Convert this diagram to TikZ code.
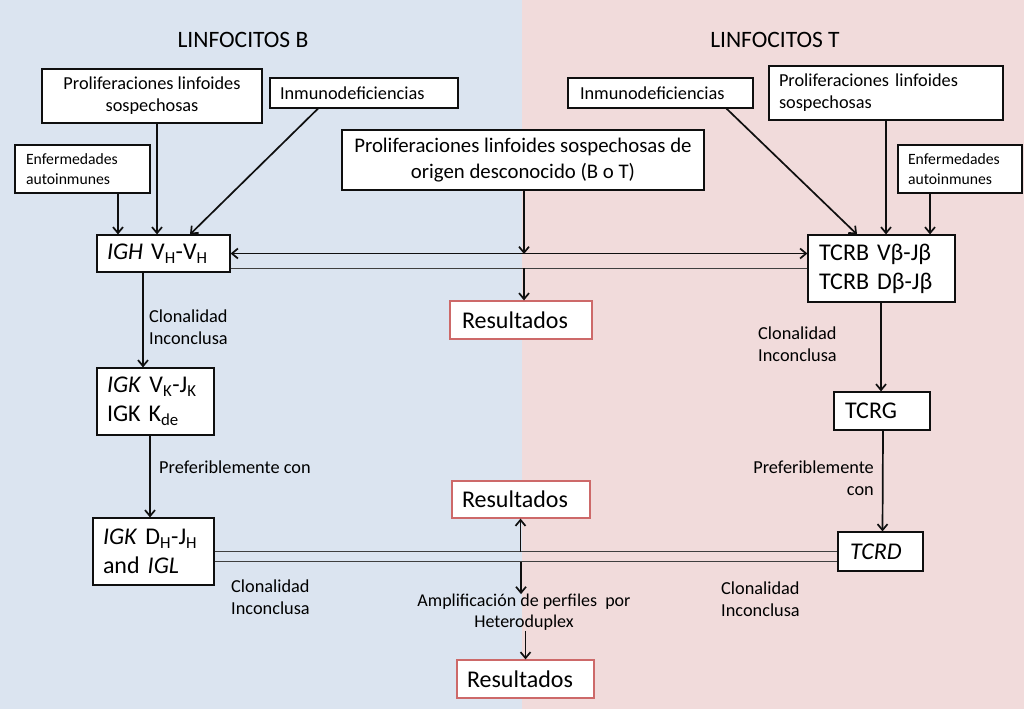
\documentclass[tikz,border=0pt]{standalone}
\usepackage{fontspec}
\setmainfont{Carlito}
\usetikzlibrary{arrows.meta}
\definecolor{bgB}{RGB}{219,228,240}
\definecolor{bgT}{RGB}{241,219,219}
\definecolor{resC}{RGB}{205,105,105}
\definecolor{lineC}{RGB}{15,15,15}
\tikzset{
  box/.style={draw=lineC, fill=white, line width=1.2pt, inner sep=0pt, font=\fontsize{18.3}{22}\selectfont},
  smallbox/.style={box, font=\fontsize{15.7}{20}\selectfont},
  bigbox/.style={box, font=\fontsize{24}{29}\selectfont},
  resbox/.style={box, draw=resC, font=\fontsize{24}{29}\selectfont},
  lbl/.style={inner sep=0pt, font=\fontsize{18.3}{22.5}\selectfont},
  arr/.style={draw=lineC, line width=1.7pt, -{Straight Barb[length=6pt,width=10pt]}},
  arrboth/.style={draw=lineC, line width=1.7pt, {Straight Barb[length=6pt,width=10pt]}-{Straight Barb[length=6pt,width=10pt]}},
  ln/.style={draw=lineC!80, line width=1.7pt},
}
\begin{document}
\begin{tikzpicture}[x=1pt,y=-1pt]
\useasboundingbox (0,0) rectangle (1024,709);
\fill[bgB] (0,0) rectangle (522,709);
\fill[bgT] (522,0) rectangle (1024,709);

\node[lbl, font=\fontsize{23.5}{26}\selectfont] (tB) at (243,40) {LINFOCITOS B};
\node[lbl, font=\fontsize{23.5}{26}\selectfont] (tT) at (775,40) {LINFOCITOS T};

% B side
\node[box, minimum width=220, minimum height=54, align=center] (pB) at (152,96) {Proliferaciones linfoides\\sospechosas};
\node[box, minimum width=188, minimum height=30, text width=168, align=left] (iB) at (364,93) {Inmunodeficiencias};
\node[smallbox, minimum width=135, minimum height=48, text width=113, align=left] (eB) at (82.5,169) {Enfermedades\\autoinmunes};
\node[bigbox, minimum width=133, minimum height=37, text width=113, align=left] (IGH) at (163.5,253.5) {\textit{IGH}~V\textsubscript{H}-V\textsubscript{H}};
\node[bigbox, minimum width=117, minimum height=67, text width=97, align=left] (IGK) at (155.5,401.5) {\textit{IGK}~V\textsubscript{K}-J\textsubscript{K}\\IGK K\textsubscript{de}};
\node[bigbox, minimum width=121, minimum height=67, text width=101, align=left] (IGKD) at (153.5,551.5) {\textit{IGK}~D\textsubscript{H}-J\textsubscript{H}\\and \textit{IGL}};

% center
\node[box, font=\fontsize{20.8}{26}\selectfont, minimum width=362, minimum height=60, align=center] (ctr) at (523,160) {Proliferaciones linfoides sospechosas de\\origen desconocido (B o T)};
\node[resbox, minimum width=142, minimum height=38, text width=118, align=left] (r1) at (521,320) {Resultados};
\node[resbox, minimum width=138, minimum height=37, text width=118, align=left] (r2) at (521,499.5) {Resultados};
\node[lbl, font=\fontsize{18}{21}\selectfont, align=center] (amp) at (524,612.5) {Amplificación de perfiles~ por\\Heteroduplex};
\node[resbox, minimum width=137, minimum height=38, text width=117, align=left] (r3) at (525.5,679) {Resultados};

% T side
\node[box, minimum width=185, minimum height=30, text width=161, align=left] (iT) at (660.5,93) {Inmunodeficiencias};
\node[box, minimum width=234, minimum height=54, text width=214, align=left] (pT) at (886,93) {Proliferaciones linfoides\\sospechosas};
\node[smallbox, minimum width=124, minimum height=48, text width=104, align=left] (eT) at (960,169) {Enfermedades\\autoinmunes};
\node[bigbox, minimum width=147, minimum height=67, text width=125, align=left] (TCRB) at (881.5,268.5) {TCRB Vβ-Jβ\\TCRB Dβ-Jβ};
\node[bigbox, minimum width=96, minimum height=38, text width=74, align=left] (TCRG) at (882,411) {TCRG};
\node[bigbox, minimum width=85, minimum height=39, text width=61, align=left] (TCRD) at (880.5,551.5) {\textit{TCRD}};

% labels
\node[lbl, anchor=west, align=left] (c1) at (149,327) {Clonalidad\\Inconclusa};
\node[lbl, anchor=west] (p1) at (159,467) {Preferiblemente con};
\node[lbl, anchor=west, align=left] (c2) at (758,344) {Clonalidad\\Inconclusa};
\node[lbl, anchor=east, align=right] (p2) at (874,478) {Preferiblemente\\con};
\node[lbl, anchor=west, align=left] (c3) at (231,597) {Clonalidad\\Inconclusa};
\node[lbl, anchor=west, align=left] (c4) at (721,599) {Clonalidad\\Inconclusa};

\coordinate (j1) at (524,254);
\coordinate (j2) at (524,268);

% B inputs
\draw[arr] ([xshift=35.5pt]eB.south) -- ([xshift=-45.5pt]IGH.north);
\draw[arr] ([xshift=5pt]pB.south) -- ([xshift=-6.5pt]IGH.north);
\draw[arr] ([xshift=-46pt]iB.south) -- ([xshift=26.5pt]IGH.north);
% T inputs
\draw[arr] ([xshift=66pt]iT.south) -- ([xshift=-24.5pt]TCRB.north);
\draw[arr] ([xshift=0pt]pT.south) -- ([xshift=4.5pt]TCRB.north);
\draw[arr] ([xshift=-30pt]eT.south) -- ([xshift=48.5pt]TCRB.north);

% horizontal connections
\draw[arrboth] (IGH.east) -- (IGH.east -| TCRB.west);
\draw[ln] (TCRB.west -| IGH.east) -- (TCRB.west);
\draw[arr] (ctr.south -| j1) -- (j1);
\draw[arr] (j2) -- (r1.north -| j2);

% vertical chains
\draw[arr] ([xshift=-20.5pt]IGH.south) -- ([xshift=-12.5pt]IGK.north);
\draw[arr] ([xshift=-5.5pt]IGK.south) -- ([xshift=-3.5pt]IGKD.north);
\draw[arr] ([xshift=-0.5pt]TCRB.south) -- ([xshift=-1pt]TCRG.north);
\draw[arr] ([xshift=1pt]TCRG.south) -- ([xshift=2pt]TCRD.north);

% bottom double line
\draw[ln] (IGKD.east) -- (TCRD.west);
\draw[ln] ([yshift=-10pt]IGKD.east) -- ([yshift=-10pt]TCRD.west);
\coordinate (j3) at (520.5,552);
\coordinate (j4) at (521,562);
\draw[arr] (j3) -- (r2.south -| j3);
\draw[arr] (j4) -- (amp.north -| j4);
\draw[arr] (amp.south -| r3.north) -- (r3.north);
\end{tikzpicture}
\end{document}
